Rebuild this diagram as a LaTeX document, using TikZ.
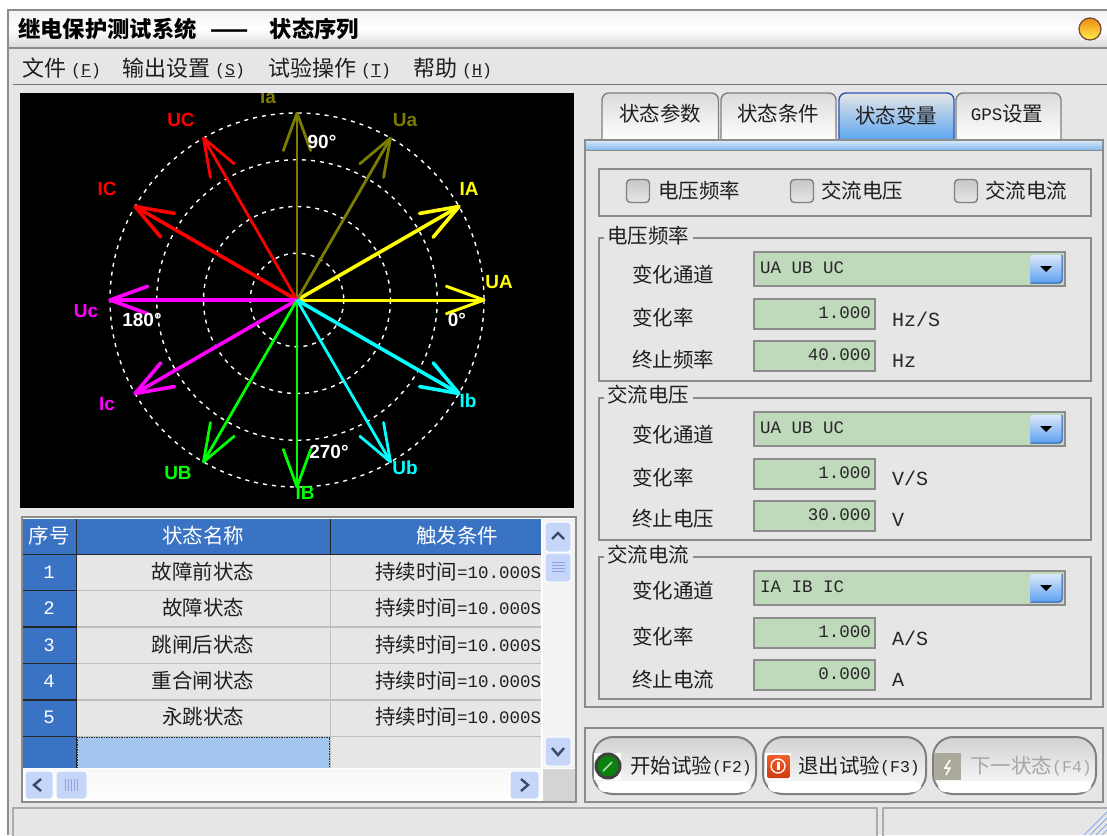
\documentclass[tikz,border=0pt]{standalone}
\usepackage{fontspec}
\setmainfont{Liberation Mono}
\newfontfamily\cjk{Noto Sans CJK SC}
\newfontfamily\lab{Liberation Sans}
\newfontfamily\mono{Liberation Mono}
\usetikzlibrary{calc}
\definecolor{winbg}{HTML}{E6E6E6}
\definecolor{frameg}{HTML}{8C8C8C}
\definecolor{hdrblue}{HTML}{3A72C4}
\definecolor{fieldg}{HTML}{BFD9BB}
\definecolor{oliv}{HTML}{7C7C00}
\definecolor{sel}{HTML}{A2C6EE}
\definecolor{sbtn}{HTML}{C6D6F8}
\definecolor{chev}{HTML}{3C4A66}
\definecolor{pyel}{HTML}{FFFF00}
\definecolor{pred}{HTML}{FF0000}
\definecolor{pmag}{HTML}{FF00FF}
\definecolor{pgrn}{HTML}{00FF00}
\definecolor{pcya}{HTML}{00FFFF}
\definecolor{ballT}{HTML}{EE8A10}
\definecolor{ballB}{HTML}{FFF050}
\definecolor{ballR}{HTML}{7A4A3A}
\definecolor{barT}{HTML}{D2E6F8}
\definecolor{barB}{HTML}{8CBEEC}
\definecolor{tabB}{HTML}{58A4F2}
\definecolor{tabR}{HTML}{2A55B8}
\definecolor{dropT}{HTML}{DCE8FA}
\definecolor{dropB}{HTML}{5AA0F0}
\definecolor{gripc}{HTML}{8AA8E8}
\definecolor{stopT}{HTML}{F0602A}
\definecolor{stopB}{HTML}{D03A10}
\definecolor{goin}{HTML}{0E8010}
\definecolor{goln}{HTML}{B8E8B8}
\definecolor{ico}{HTML}{ABA99B}
\definecolor{lines}{HTML}{90A0E0}
\newcommand\ltn[1]{\raisebox{1pt}{\mono\fontsize{17.5}{20}\selectfont #1}}
\newcommand\ltb[1]{\raisebox{1pt}{\mono\fontsize{16.5}{20}\selectfont #1}}
\tikzset{
  zh/.style={font=\cjk\fontsize{20.5}{22}\selectfont,inner sep=0pt,text=black!88},
  zhl/.style={zh,anchor=west},
  menu/.style={anchor=west,font=\cjk\fontsize{22}{24}\selectfont,inner sep=0pt,text=black!88},
  wh/.style={font=\cjk\fontsize{20.5}{22}\selectfont,inner sep=0pt,text=white},
  num/.style={font=\mono\fontsize{17.5}{20}\selectfont,inner sep=0pt,text=black!85},
  unit/.style={font=\mono\fontsize{20}{20}\selectfont,inner sep=0pt,text=black!85,anchor=west},
  pol/.style={font=\lab\bfseries\fontsize{19}{20}\selectfont,inner sep=0pt},
  deg/.style={font=\lab\bfseries\fontsize{19}{20}\selectfont,inner sep=0pt,text=white},
  groupbox/.style={draw=frameg,line width=1.3pt},
  fieldbox/.style={draw=frameg,line width=1.5pt,fill=fieldg},
  grid/.style={draw=white,line width=1.4pt,dash pattern=on 4pt off 5pt},
  rowline/.style={draw=black!25,line width=1.4pt},
  chevron/.style={draw=chev,line width=2.4pt},
  sbox/.style={draw=white,line width=1pt,fill=sbtn,rounded corners=3pt},
  stat/.style={draw=black!25!winbg,line width=1.5pt,fill=winbg},
}
\newcommand\tabshape[4]{% x1 x2 fill border
  \draw[draw=#4,line width=1.4pt,rounded corners=7pt,#3] (#1,141) -- (#1,93) -- (#2,93) -- (#2,141);}
\newcommand\cbox[1]{%
  \draw[draw=black!50,line width=1.4pt,rounded corners=4pt,top color=black!22,bottom color=winbg] ($(#1)+(-11.5,-11.5)$) rectangle ($(#1)+(11.5,11.5)$);}
\newcommand\combo[3]{% ytop, ybottom, text
  \draw[fieldbox] (754,#1) rectangle (1065,#2);
  \node[num,anchor=west] at (760,#1+16) {#3};
  \shade[rounded corners=3pt,top color=dropT,bottom color=dropB] (1030,#1+3) rectangle (1062,#2-3);
  \draw[tabR,line width=1pt,rounded corners=3pt] (1062,#1+3) -- (1062,#2-3) -- (1030,#2-3);
  \fill[black] (1040,#1+14) -- (1052,#1+14) -- (1046,#1+20) -- cycle;}
\newcommand\numfield[3]{% ytop, ybottom, text
  \draw[fieldbox] (754,#1) rectangle (875,#2);
  \node[num,anchor=east] at (871,#1+14) {#3};}
\newcommand\bigbtn[2]{%
  \draw[draw=black!50,line width=2pt,rounded corners=20pt,top color=black!18,middle color=winbg,bottom color=white] (#1,737) rectangle (#2,794);
  \fill[white,rounded corners=7pt] (#1+5,781) rectangle (#2-5,792);}
\begin{document}
\begin{tikzpicture}[x=1pt,y=-1pt]
\useasboundingbox (0,0) rectangle (1107,835);
\fill[white] (0,0) rectangle (1107,835);
% window
\fill[winbg] (8,10) rectangle (1107,835);
\draw[frameg,line width=1.4pt] (1107,10) -- (8,10) -- (8,835);
\shade[top color=black!5,bottom color=black!14,middle color=white] (9,11) rectangle (1107,47);
\draw[black!45,line width=1.2pt] (9,48) -- (1107,48);
\node[anchor=west,inner sep=0pt,font=\cjk\bfseries\fontsize{22.3}{24}\selectfont,text=black] (title) at (18,29) {继电保护测试系统\hspace{14pt}——\hspace{21pt}状态序列};
% title-bar ball
\shade[top color=ballT,bottom color=ballB] (1090,29) circle[radius=11];
\draw[ballR,line width=1.3pt] (1090,29) circle[radius=11];
% menu
\node[menu] (m1) at (22,68) {文件\hspace{5pt}\ltb{(\underline{F})}};
\node[menu] (m2) at (122,68) {输出设置\hspace{5pt}\ltb{(\underline{S})}};
\node[menu] (m3) at (268,68) {试验操作\hspace{5pt}\ltb{(\underline{T})}};
\node[menu] (m4) at (413,68) {帮助\hspace{5pt}\ltb{(\underline{H})}};
\draw[black!55,line width=1.4pt] (13,84.5) -- (1107,84.5);
% phasor area
\fill[black] (20,93) rectangle (574,508);
\begin{scope}
\clip (20,93) rectangle (574,508);
\coordinate (o) at (297,300);
\foreach \r in {46.75,93.5,140.25,187} \draw[grid] (o) circle[radius=\r];
\foreach \a/\c/\w/\n/\lx/\ly in {
  0/pyel/3/UA/499/282, 30/pyel/3.6/IA/469/189,
  60/oliv/2.8/Ua/405/120, 90/oliv/2.8/Ia/268/97,
  120/pred/2.8/UC/181/120, 150/pred/3.6/IC/107/189,
  180/pmag/3.6/Uc/86/311, 210/pmag/3.6/Ic/107/404,
  240/pgrn/2.8/UB/178/473, 270/pgrn/2.8/IB/305/493,
  300/pcya/2.8/Ub/405/468, 330/pcya/3.6/Ib/468/401}{
  \coordinate (t\n) at ($(o)+(-\a:187)$);
  \draw[\c,line width=\w pt] (o) -- (t\n);
  \draw[\c,line width=\w pt,line join=round,line cap=round] ($(t\n)+(-\a+160:40)$) -- (t\n) -- ($(t\n)+(-\a-160:40)$);
  \node[pol,text=\c] (l\n) at (\lx,\ly) {\n};
}
\end{scope}
\node[deg] (d90) at (322,142) {90°};
\node[deg] (d180) at (142,320) {180°};
\node[deg] (d0) at (457,320) {0°};
\node[deg] (d270) at (329,452) {270°};
% table
\draw[fill=white,draw=frameg,line width=1.4pt] (22,517) rectangle (576,802);
\fill[black!5!white] (543,519) rectangle (575,768);
\fill[winbg] (76,554) rectangle (541,768);
\fill[hdrblue] (23,519) rectangle (541,554);
\fill[hdrblue] (23,554) rectangle (76,768);
\fill[sel] (77,737) rectangle (330,768);
\draw[black!80,line width=1.5pt,densely dotted] (77,768) -- (77,737) -- (330,737) -- (330,768);
\foreach \y in {590.5,627,663.5,700,736.5} {
  \draw[rowline] (77,\y) -- (541,\y);
  \draw[black!85,line width=1.5pt] (23,\y) -- (76,\y);
}
\draw[black!85,line width=1.5pt] (23,554.5) -- (541,554.5);
\draw[black!85,line width=1.5pt] (76.5,519) -- (76.5,768);
\draw[black!85,line width=1.5pt] (330.5,519) -- (330.5,554);
\draw[rowline] (330.5,555) -- (330.5,768);
\node[wh] (h1) at (49,536) {序号};
\node[wh] (h2) at (203,536) {状态名称};
\node[wh] (h3) at (457,536) {触发条件};
\foreach \i/\t/\y in {1/故障前状态/572,2/故障状态/608,3/跳闸后状态/645,4/重合闸状态/681,5/永跳状态/717}{
  \node[font=\mono\fontsize{19}{20}\selectfont,text=white,inner sep=0pt] (n\i) at (49,\y) {\i};
  \node[zh] (s\i) at (203,\y) {\t};
  \node[zhl] (c\i) at (375,\y) {持续时间\ltn{=10.000S}};
}
% scrollbars
\shade[top color=black!3,bottom color=white] (23,769) rectangle (541,800);
\fill[black!8!winbg] (543,769) rectangle (575,801);
\draw[sbox] (545,522) rectangle (571,552);
\draw[chevron] (552,539) -- (558,533) -- (564,539);
\draw[sbox] (545,553) rectangle (571,582);
\foreach \y in {562,565,568,571} \draw[lines,line width=1pt] (552,\y) -- (565,\y);
\draw[sbox] (545,737) rectangle (571,766);
\draw[chevron] (552,748) -- (558,755) -- (564,748);
\draw[sbox] (25,771) rectangle (53,799);
\draw[chevron] (41,779) -- (34,785) -- (41,791);
\draw[sbox] (56,771) rectangle (87,799);
\foreach \x in {65,68,71,74,77} \draw[lines,line width=1pt] (\x,779) -- (\x,791);
\draw[sbox] (510,771) rectangle (539,799);
\draw[chevron] (521,779) -- (528,785) -- (521,791);
% status bar
\draw[stat] (13,835.5) -- (13,808) -- (877,808) -- (877,835.5);
\draw[stat] (883,835.5) -- (883,808) -- (1107,808);
\foreach \d in {5,11,17,23} \draw[gripc,line width=1pt] (1107-\d,835) -- (1107,835-\d);
% right side: tabs
\tabshape{602}{718.5}{top color=black!14,bottom color=white}{black!50}
\tabshape{721}{836}{top color=black!14,bottom color=white}{black!50}
\tabshape{956}{1061}{top color=black!14,bottom color=white}{black!50}
\tabshape{839}{954}{top color=black!10,bottom color=tabB}{tabR}
\node[zh] (tb1) at (660,114) {状态参数};
\node[zh] (tb2) at (778,114) {状态条件};
\node[zh] (tb3) at (896,116) {状态变量};
\node[zh] (tb4) at (1007,114) {\ltn{GPS}设置};
% panel
\draw[fill=winbg,draw=frameg,line width=1.4pt] (585,140) rectangle (1103,707);
\shade[top color=barT,bottom color=barB] (586,141) rectangle (1102,149);
\draw[frameg,line width=1pt] (585,150) -- (1103,150);
% check box panel
\draw[groupbox] (599,169) rectangle (1091,216);
\coordinate (k1) at (638,191); \coordinate (k2) at (802,191); \coordinate (k3) at (966,191);
\cbox{k1}\cbox{k2}\cbox{k3}
\node[zhl] (kt1) at (658,191) {电压频率};
\node[zhl] (kt2) at (821,191) {交流电压};
\node[zhl] (kt3) at (985,191) {交流电流};
% group 1
\draw[groupbox] (599,238) rectangle (1091,381);
\fill[winbg] (604,228) rectangle (693,245);
\node[zhl] (g1) at (607,236) {电压频率};
\node[zhl] (a1) at (632,275) {变化通道};
\node[zhl] (a2) at (632,318) {变化率};
\node[zhl] (a3) at (632,360) {终止频率};
\combo{252}{286}{UA UB UC}
\numfield{299}{329}{1.000}
\numfield{341}{371}{40.000}
\node[unit] (u1) at (892,319) {Hz/S};
\node[unit] (u2) at (892,361) {Hz};
% group 2
\draw[groupbox] (599,398) rectangle (1091,540);
\fill[winbg] (604,388) rectangle (693,405);
\node[zhl] (g2) at (607,395) {交流电压};
\node[zhl] (b1) at (632,435) {变化通道};
\node[zhl] (b2) at (632,478) {变化率};
\node[zhl] (b3) at (632,519) {终止电压};
\combo{412}{446}{UA UB UC}
\numfield{459}{489}{1.000}
\numfield{501}{531}{30.000}
\node[unit] (u3) at (892,478) {V/S};
\node[unit] (u4) at (892,520) {V};
% group 3
\draw[groupbox] (599,557) rectangle (1091,699);
\fill[winbg] (604,547) rectangle (693,564);
\node[zhl] (g3) at (607,555) {交流电流};
\node[zhl] (c01) at (632,591) {变化通道};
\node[zhl] (c02) at (632,637) {变化率};
\node[zhl] (c03) at (632,680) {终止电流};
\combo{571}{605}{IA IB IC}
\numfield{618}{648}{1.000}
\numfield{660}{690}{0.000}
\node[unit] (u5) at (892,638) {A/S};
\node[unit] (u6) at (892,680) {A};
% buttons panel
\draw[groupbox] (585,728) rectangle (1103,802);
\bigbtn{593}{756}
\bigbtn{763}{926}
\bigbtn{933}{1096}
\fill[white] (594,753) rectangle (621,780);
\fill[black!75] (608,766) circle[radius=13.5];
\fill[goin] (608,766) circle[radius=10.5];
\draw[goln,line width=1.4pt] (603,771) -- (612,762);
\fill[white] (765,753) rectangle (791,780);
\shade[rounded corners=2pt,top color=stopT,bottom color=stopB] (767,755) rectangle (790,778);
\draw[white,line width=1.3pt] (778,766) circle[radius=7];
\fill[white] (776.5,762) rectangle (779.5,770);
\fill[ico] (934,753) rectangle (961,780);
\draw[white,line width=1.5pt] (950,760) -- (945,768) -- (950,768) -- (946,775);
\node[zhl] (bt1) at (630,766) {开始试验\ltb{(F2)}};
\node[zhl] (bt2) at (798,766) {退出试验\ltb{(F3)}};
\node[zhl,text=black!35] (bt3) at (970,766) {下一状态\ltb{(F4)}};
\end{tikzpicture}
\end{document}
